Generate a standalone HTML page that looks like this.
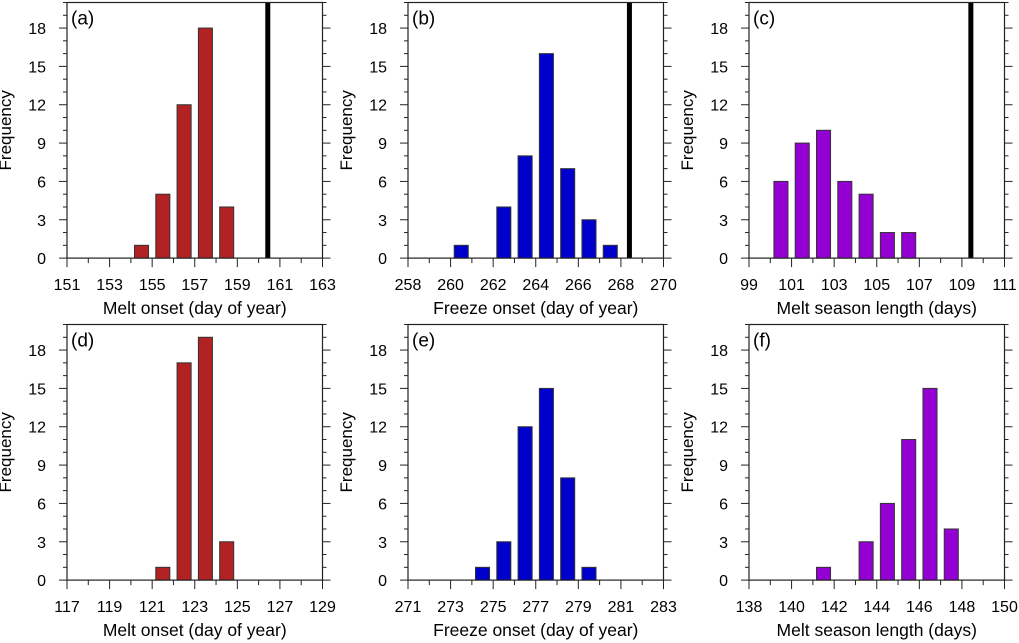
<!DOCTYPE html>
<html><head><meta charset="utf-8"><style>
html,body{margin:0;padding:0;background:#fff;}
svg{display:block;font-family:"Liberation Sans",Arial,sans-serif;}
</style></head><body>
<svg id="chart" width="1019" height="643" viewBox="0 0 1019 643" xmlns="http://www.w3.org/2000/svg"></svg>
<script>
const panelLabels = ["(a)","(b)","(c)","(d)","(e)","(f)"];
const xTitles = ["Melt onset (day of year)","Freeze onset (day of year)","Melt season length (days)","Melt onset (day of year)","Freeze onset (day of year)","Melt season length (days)"];
const xStarts = [151,258,99,117,271,138];
const binCentersA = [154.5,155.5,156.5,157.5,158.5];
const countsA = [1,5,12,18,4];
const binCentersB = [260.5,262.5,263.5,264.5,265.5,266.5,267.5];
const countsB = [1,4,8,16,7,3,1];
const binCentersC = [100.5,101.5,102.5,103.5,104.5,105.5,106.5];
const countsC = [6,9,10,6,5,2,2];
const binCentersD = [121.5,122.5,123.5,124.5];
const countsD = [1,17,19,3];
const binCentersE = [274.5,275.5,276.5,277.5,278.5,279.5];
const countsE = [1,3,12,15,8,1];
const binCentersF = [141.5,143.5,144.5,145.5,146.5,147.5];
const countsF = [1,3,6,11,15,4];
const refLines = [160.43,268.4,109.42,null,null,null];
const yTicks = [0,3,6,9,12,15,18];
const colors = ["#b22222","#0000cd","#9400d3","#b22222","#0000cd","#9400d3"];
const allCenters = [binCentersA,binCentersB,binCentersC,binCentersD,binCentersE,binCentersF];
const allCounts = [countsA,countsB,countsC,countsD,countsE,countsF];

const NS="http://www.w3.org/2000/svg";
const svg=document.getElementById('chart');
function mk(tag,attrs,parent){const e=document.createElementNS(NS,tag);for(const k in attrs)e.setAttribute(k,attrs[k]);(parent||svg).appendChild(e);return e;}
const colX=[67,408,749], rowT=[2.5,324.5], W=255.5, H=255.6, YMAX=20, XSPAN=12;

for(let p=0;p<6;p++){
  const L=colX[p%3], T=rowT[Math.floor(p/3)], B=T+H, R=L+W;
  const x0=xStarts[p];
  const xs=v=>L+(v-x0)/XSPAN*W;
  const ys=v=>B-v/YMAX*H;
  const g=mk('g',{});
  
  
  const cs=allCenters[p], ct=allCounts[p];
  for(let i=0;i<cs.length;i++){
    const bw=0.66/XSPAN*W;
    const r=mk('rect',{x:xs(cs[i])-bw/2,y:ys(ct[i]),width:bw,height:ys(0)-ys(ct[i]),fill:colors[p],stroke:'#333','stroke-width':1},g);
    
    
  }
  if(refLines[p]!==null){
    const l=mk('line',{x1:xs(refLines[p]),x2:xs(refLines[p]),y1:T,y2:B,stroke:'#000','stroke-width':5},g);
    
    
  }
  const fr=mk('rect',{x:L,y:T,width:W,height:H,fill:'none',stroke:'#222','stroke-width':1.2},g);
  
  
  for(let v=0;v<=YMAX;v++){
    const y=ys(v), maj=v%3===0, len=maj?8:4;
    mk('line',{x1:L-len,x2:L,y1:y,y2:y,stroke:'#222','stroke-width':1},g);
    mk('line',{x1:R,x2:R+len,y1:y,y2:y,stroke:'#222','stroke-width':1},g);
  }
  for(const v of yTicks){
    const t=mk('text',{x:L-21,y:ys(v)+6,'text-anchor':'end','font-size':16,fill:'#000'},g);
    t.textContent=v;
    
    
  }
  for(let k=0;k<=XSPAN;k++){
    const x=xs(x0+k), maj=k%2===0, len=maj?9:5;
    mk('line',{x1:x,x2:x,y1:B,y2:B+len,stroke:'#222','stroke-width':1},g);
    if(maj){
      const t=mk('text',{x:x,y:B+32,'text-anchor':'middle','font-size':16,fill:'#000'},g);
      t.textContent=x0+k;
      
      
    }
  }
  const xt=mk('text',{x:L+W/2,y:B+56,'text-anchor':'middle','font-size':17.5,fill:'#000'},g);
  xt.textContent=xTitles[p];
  
  
  const yt=mk('text',{x:0,y:0,'text-anchor':'middle','font-size':17,fill:'#000',transform:`translate(${L-56},${T+H/2}) rotate(-90)`},g);
  yt.textContent='Frequency';
  
  
  const pl=mk('text',{x:L+4,y:T+22,'font-size':19,fill:'#000'},g);
  pl.textContent=panelLabels[p];
  
  
}
</script>
</body></html>
